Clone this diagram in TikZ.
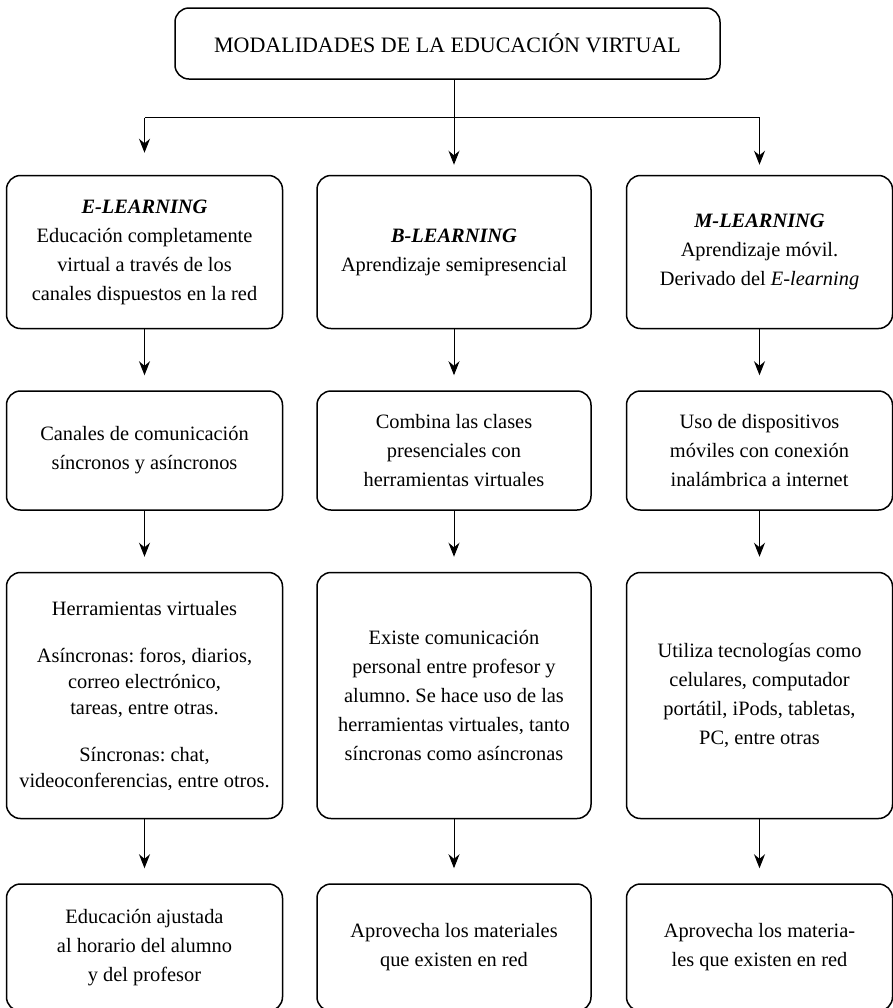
\documentclass[tikz,border=0pt]{standalone}
\usepackage{fontspec}
\setmainfont{Liberation Serif}
\usetikzlibrary{positioning,arrows.meta}
\frenchspacing

\begin{document}
\begin{tikzpicture}[x=0.5pt, y=-0.5pt,
  box/.style = {shape=rectangle, rounded corners=7pt,
    draw, line width=0.75pt, align=center, inner sep=4pt,
    font=\fontsize{10.2}{14.5}\selectfont},
  colA/.style = {box, minimum width=138pt},
  colB/.style = {box, minimum width=137pt},
  colC/.style = {box, minimum width=133pt},
  row1/.style = {minimum height=76.5pt},
  row2/.style = {minimum height=59.5pt},
  row3/.style = {minimum height=123pt},
  row4/.style = {minimum height=63.5pt},
  arr/.style = {-{Stealth[length=7pt,width=5.5pt]}, line width=0.5pt,
    shorten >=7.5pt}]
  \useasboundingbox (0,0) rectangle (893,1008);
  \node[box, minimum width=272.5pt, minimum height=35.5pt,
    font=\fontsize{11}{13}\selectfont] (root) at (447.5,43.5)
    {MODALIDADES DE LA EDUCACIÓN VIRTUAL};

  \node[colB, row1, below=47.5pt of root, xshift=3.25pt] (b1)
    {\textbf{\textit{B-LEARNING}}\\Aprendizaje semipresencial};
  \node[colA, row1, left=16.5pt of b1] (e1)
    {\textbf{\textit{E-LEARNING}}\\Educación completamente\\virtual a través de los\\canales dispuestos en la red};
  \node[colC, row1, right=17pt of b1] (m1)
    {\textbf{\textit{M-LEARNING}}\\Aprendizaje móvil.\\Derivado del \textit{E-learning}};

  \node[colA, row2, below=30.5pt of e1] (e2)
    {Canales de comunicación\\síncronos y asíncronos};
  \node[colB, row2, below=30.5pt of b1] (b2)
    {Combina las clases\\presenciales con\\herramientas virtuales};
  \node[colC, row2, below=30.5pt of m1] (m2)
    {Uso de dispositivos\\móviles con conexión\\inalámbrica a internet};

  \node[colA, row3, below=30.5pt of e2, font=\fontsize{10.2}{13}\selectfont] (e3)
    {Herramientas virtuales\\[10.5pt]Asíncronas: foros, diarios,\\correo electrónico,\\tareas, entre otras.\\[10.5pt]Síncronas: chat,\\videoconferencias, entre otros.};
  \node[colB, row3, below=30.5pt of b2] (b3)
    {Existe comunicación\\personal entre profesor y\\alumno. Se hace uso de las\\herramientas virtuales, tanto\\síncronas como asíncronas};
  \node[colC, row3, below=30.5pt of m2] (m3)
    {Utiliza tecnologías como\\celulares, computador\\portátil, iPods, tabletas,\\PC, entre otras};

  \node[colA, row4, below=32pt of e3] (e4)
    {Educación ajustada\\al horario del alumno\\y del profesor};
  \node[colB, row4, below=32pt of b3] (b4)
    {Aprovecha los materiales\\que existen en red};
  \node[colC, row4, below=32pt of m3] (m4)
    {Aprovecha los materia-\\les que existen en red};

  \path (root.south) ++(0,38) coordinate (fork);
  \draw[line width=0.5pt] (fork -| e1) -- (fork -| m1);
  \draw[arr, shorten >=5pt] (root.south -| b1.north) -- (b1.north);
  \draw[arr, shorten >=11pt] (fork -| e1) -- (e1.north);
  \draw[arr, shorten >=5pt] (fork -| m1) -- (m1.north);

  \draw[arr] (e1.south) -- (e2.north);
  \draw[arr] (e2.south) -- (e3.north);
  \draw[arr] (e3.south) -- (e4.north);
  \draw[arr] (b1.south) -- (b2.north);
  \draw[arr] (b2.south) -- (b3.north);
  \draw[arr] (b3.south) -- (b4.north);
  \draw[arr] (m1.south) -- (m2.north);
  \draw[arr] (m2.south) -- (m3.north);
  \draw[arr] (m3.south) -- (m4.north);
\end{tikzpicture}
\end{document}
